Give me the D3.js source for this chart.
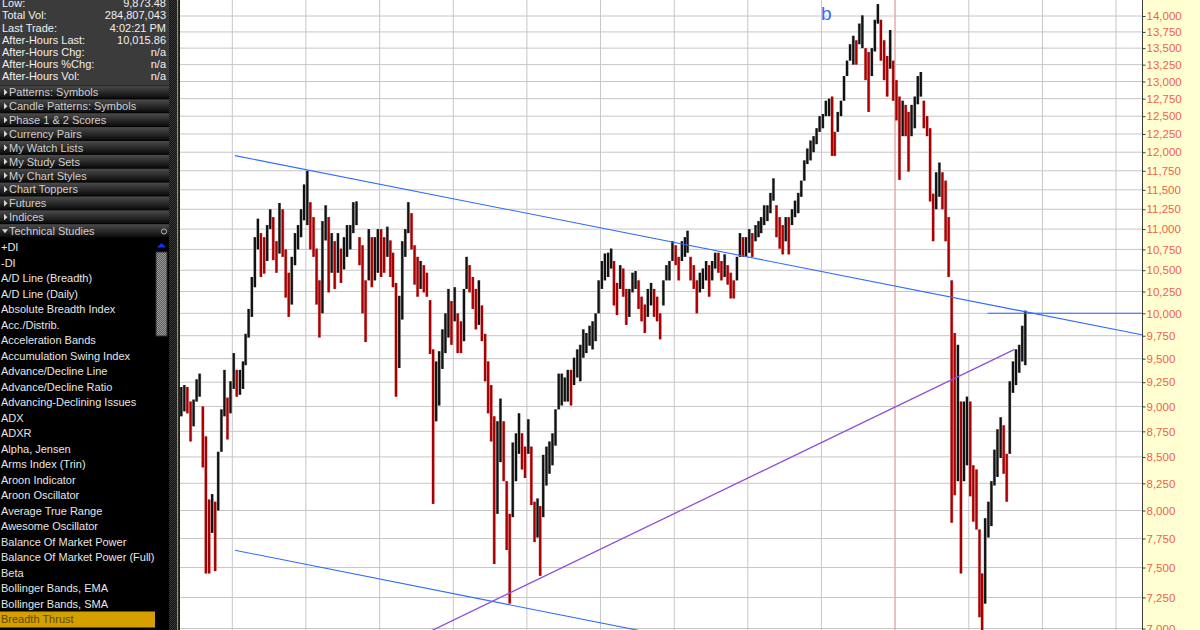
<!DOCTYPE html>
<html>
<head>
<meta charset="utf-8">
<script src="https://cdn.jsdelivr.net/npm/d3@7"></script>
<style>
  body { margin: 0; background: #000; }
  svg { display: block; }
  .panel text { font-family: "Liberation Sans", Arial, sans-serif; font-size: 11px; }
  .price-axis text { font-family: "Liberation Sans", Arial, sans-serif; font-size: 11.5px; fill: #f2604c; }
  .price-axis line { stroke: #404040; }
</style>
</head>
<body>
<div id="chart"></div>
<script>

// quote box at top of the side panel
var quoteLabels = ["Low:", "Total Vol:", "Last Trade:", "After-Hours Last:", "After-Hours Chg:", "After-Hours %Chg:", "After-Hours Vol:"];
var quoteValues = ["9,873.48", "284,807,043", "4:02:21 PM", "10,015.86", "n/a", "n/a", "n/a"];

var folders = ["Patterns: Symbols", "Candle Patterns: Symbols", "Phase 1 & 2 Scores", "Currency Pairs",
  "My Watch Lists", "My Study Sets", "My Chart Styles", "Chart Toppers", "Futures", "Indices", "Technical Studies"];

var studies = ["+DI", "-DI", "A/D Line (Breadth)", "A/D Line (Daily)", "Absolute Breadth Index", "Acc./Distrib.",
  "Acceleration Bands", "Accumulation Swing Index", "Advance/Decline Line", "Advance/Decline Ratio",
  "Advancing-Declining Issues", "ADX", "ADXR", "Alpha, Jensen", "Arms Index (Trin)", "Aroon Indicator",
  "Aroon Oscillator", "Average True Range", "Awesome Oscillator", "Balance Of Market Power",
  "Balance Of Market Power (Full)", "Beta", "Bollinger Bands, EMA", "Bollinger Bands, SMA", "Breadth Thrust"];

// half-month bars (1st-15th / 16th-end), first one is 16-30 Apr 1998
var firstHalf = new Date(1998, 3, 16);

var highs = [
  9200, 9220, 9200, 9050, 9070, 9280, 9340, 9000, 8700, 8100, 8150, 8080, 8550, 8970, 9380, 9090, 9260,
  9560, 9380, 9380, 9470, 9770, 10050, 10420, 10900, 11130, 10950, 10900, 11050, 11250, 11150, 10850, 11330,
  11250, 10750, 10470, 10660, 10950, 11050, 11250, 11570,
  11750, 11340, 11150, 10760, 10380, 11100, 11300, 11150, 10950, 10850, 10950, 10760, 10900, 11050, 11050,
  11340, 11350, 10900, 10800, 10380, 11000, 10900, 10900, 11000,
  11000, 10900, 11030, 10860, 10710, 10350, 10200, 10850, 11000, 11340, 11200, 10800, 10660, 10610, 10560,
  10470, 10150, 9600, 9470, 9580, 9820, 10000, 10280, 10140,
  10300, 10000, 9910, 10280, 10660, 10560, 10420, 10280, 10380, 10090, 9770, 9470, 9220, 8900, 8850, 9080,
  8850, 8270, 7970, 8640, 8730, 8930, 8730, 8600,
  8870, 8600, 8080, 8110, 8040, 8520, 8600, 8650, 8730, 8970, 9340, 9340, 9300, 9380, 9380, 9510, 9600, 9650,
  9820, 9780, 9860, 9910, 10000, 10380,
  10610, 10700, 10710, 10760, 10610, 10350, 10560, 10520, 10280, 10280, 10470, 10490, 10380, 10190, 10100,
  10280, 10350, 10280, 10190, 10000, 10380, 10560, 10610, 10850,
  10800, 10660, 10850, 10900, 10980, 10660, 10560, 10380, 10470, 10520, 10610, 10560, 10610, 10710, 10710,
  10610, 10690, 10560, 10470, 10380, 10660, 10950, 10900, 10900,
  11000, 10950, 11050, 11100, 11150, 11300, 11300, 11460, 11650, 11300, 11150, 11050, 11150, 11150, 11250,
  11360, 11460, 11620, 11890, 12050, 12160, 12220, 12330, 12500,
  12530, 12720, 12750, 12780, 12280, 12560, 12720, 13080, 13310, 13560, 13690, 13620, 13880, 14010, 13500,
  13440, 13500, 13940, 14190, 13940, 13620, 13380, 13780, 13310,
  13020, 12780, 12720, 12660, 12560, 12660, 12780, 13080, 13140, 12720, 12500, 12330, 11450, 11730, 11860,
  11730, 11620, 11150, 10380, 9780, 9650, 9050, 9050, 9100,
  9050, 8420, 8380, 7830, 7450, 7930, 8080, 8270, 8570, 8770, 8890, 8810, 8530, 9260, 9470, 9600, 9650, 9860,
  10030
];

var lows = [
  8900, 8950, 8930, 8650, 8800, 9050, 9100, 8400, 7450, 7450, 7800, 7470, 8000, 8550, 8900, 8670, 8930,
  9180, 9100, 9120, 9180, 9430, 9730, 9960, 10300, 10750, 10420, 10460, 10610, 11000, 10620, 10470, 10700,
  10660, 10180, 9960, 10100, 10560, 10750, 10900, 11110,
  11050, 10750, 10660, 10100, 9730, 10000, 10860, 10240, 10470, 10280, 10470, 10350, 10510, 10660, 10750,
  10950, 11050, 10560, 10000, 9680, 10380, 10300, 10380, 10470,
  10420, 10470, 10660, 10420, 10300, 9100, 9400, 9930, 10660, 10950, 10750, 10330, 10190, 10280, 10240,
  10190, 9550, 8060, 8850, 9010, 9390, 9560, 9730, 9650,
  9910, 9560, 9560, 9690, 10280, 10240, 10050, 9820, 9870, 9690, 9260, 8930, 8650, 7530, 7970, 8450,
  8270, 7650, 7200, 7940, 8270, 8530, 8380, 8300,
  8530, 8050, 7720, 7760, 7430, 7940, 8230, 8340, 8420, 8610, 8970, 9010, 9050, 9050, 9010, 9220, 9300, 9260,
  9510, 9560, 9640, 9600, 9690, 10000,
  10280, 10380, 10420, 10520, 10090, 9980, 10280, 10190, 9870, 9960, 10240, 10280, 10050, 9910, 9780,
  9960, 10090, 9960, 9910, 9710, 10090, 10380, 10380, 10610,
  10560, 10380, 10610, 10660, 10710, 10380, 10280, 10000, 10240, 10280, 10380, 10190, 10380, 10520, 10470,
  10380, 10420, 10330, 10170, 10170, 10380, 10660, 10660, 10660,
  10710, 10660, 10850, 10900, 10950, 11050, 11100, 11200, 11360, 10900, 10760, 10690, 10850, 10690, 11050,
  11150, 11200, 11410, 11620, 11840, 11890, 12000, 12110, 12280,
  12330, 12500, 12500, 11950, 11950, 12280, 12500, 12720, 13080, 13310, 13250, 13250, 13560, 13500, 13020,
  12560, 13080, 13450, 13880, 13310, 13020, 12780, 13190, 12720,
  12440, 11630, 12220, 12220, 11740, 12220, 12330, 12670, 12780, 12330, 12220, 11350, 10850, 11250, 11410,
  11250, 10850, 10420, 7890, 8140, 8270, 7450, 8270, 8420,
  8130, 7900, 7830, 7090, 6470, 7200, 7760, 7860, 8230, 8310, 8490, 8340, 8080, 8530, 9140, 9220, 9350, 9470,
  9430
];

// price axis
var yTicks = [7000, 7250, 7500, 7750, 8000, 8250, 8500, 8750, 9000, 9250, 9500, 9750, 10000, 10250, 10500,
  10750, 11000, 11250, 11500, 11750, 12000, 12250, 12500, 12750, 13000, 13250, 13500, 13750, 14000];

// drawn studies: [date, price] end points
var upperChannel = [[new Date(1999, 0, 14), 11954], [new Date(2011, 4, 9), 9760]];
var lowerChannel = [[new Date(1999, 0, 14), 7648], [new Date(2004, 9, 15), 6954]];
var supportLine = [[new Date(2001, 6, 19), 6938], [new Date(2009, 7, 16), 9600]];
var lastLine = [[new Date(2009, 3, 4), 10000], [new Date(2011, 4, 9), 10000]];
var markerDate = new Date(2008, 0, 1);

var svg = d3.select("#chart")
  .append("svg")
  .attr("width", 1200)
  .attr("height", 630);

var defs = svg.append("defs");

var bandGrad = defs.append("linearGradient")
  .attr("id", "band")
  .attr("x1", 0).attr("y1", 0).attr("x2", 0).attr("y2", 1);
bandGrad.append("stop").attr("offset", "0%").attr("stop-color", "#4c4c4c");
bandGrad.append("stop").attr("offset", "100%").attr("stop-color", "#0a0a0a");

var dots = defs.append("pattern")
  .attr("id", "dots")
  .attr("width", 2).attr("height", 2)
  .attr("patternUnits", "userSpaceOnUse");
dots.append("rect").attr("width", 2).attr("height", 2).attr("fill", "#5a5a5a");
dots.append("rect").attr("width", 1).attr("height", 1).attr("fill", "#9a9a9a");
dots.append("rect").attr("x", 1).attr("y", 1).attr("width", 1).attr("height", 1).attr("fill", "#9a9a9a");

var darkDots = defs.append("pattern")
  .attr("id", "darkDots")
  .attr("width", 2).attr("height", 2)
  .attr("patternUnits", "userSpaceOnUse");
darkDots.append("rect").attr("width", 2).attr("height", 2).attr("fill", "#111");
darkDots.append("rect").attr("width", 1).attr("height", 1).attr("fill", "#3a3a3a");
darkDots.append("rect").attr("x", 1).attr("y", 1).attr("width", 1).attr("height", 1).attr("fill", "#3a3a3a");

defs.append("clipPath").attr("id", "plotClip")
  .append("rect").attr("x", 180).attr("y", 0).attr("width", 962).attr("height", 630);

// ==============================
// side panel
var panel = svg.append("g").attr("class", "panel");

panel.append("rect").attr("x", 0).attr("y", 0).attr("width", 178).attr("height", 630).attr("fill", "#000");
panel.append("rect").attr("x", 0).attr("y", 0).attr("width", 171).attr("height", 85).attr("fill", "#3b3b3b");

panel.selectAll(".qlabel")
  .data(quoteLabels)
  .enter()
  .append("text")
  .attr("x", 2)
  .attr("y", (d, i) => 7.3 + i * 12.1)
  .attr("fill", "#f0f0f0")
  .text(d => d);

panel.selectAll(".qvalue")
  .data(quoteValues)
  .enter()
  .append("text")
  .attr("x", 166)
  .attr("y", (d, i) => 7.3 + i * 12.1)
  .attr("text-anchor", "end")
  .attr("fill", "#f0f0f0")
  .text(d => d);

var folderRows = panel.selectAll(".folder")
  .data(folders)
  .enter()
  .append("g")
  .attr("transform", (d, i) => `translate(0, ${85.5 + i * 13.87})`);

folderRows.append("rect")
  .attr("width", 171)
  .attr("height", 13)
  .attr("fill", "url(#band)");

folderRows.append("path")
  .attr("d", (d, i) => i === folders.length - 1 ? "M2,5 L8,5 L5,9 Z" : "M4,3.5 L7.5,6.8 L4,10 Z")
  .attr("fill", "#d8d8d8");

folderRows.append("text")
  .attr("x", 9)
  .attr("y", 10.8)
  .attr("fill", "#cfcfcf")
  .text(d => d);

// settings icon on the open folder
panel.append("circle")
  .attr("cx", 164).attr("cy", 231.5).attr("r", 2.6)
  .attr("fill", "none").attr("stroke", "#bbb").attr("stroke-width", 1);

// study list
panel.append("rect").attr("x", 0).attr("y", 611.5).attr("width", 155).attr("height", 16).attr("fill", "#d4a000");

panel.selectAll(".study")
  .data(studies)
  .enter()
  .append("text")
  .attr("x", 1)
  .attr("y", (d, i) => 251.3 + i * 15.5)
  .attr("fill", (d, i) => i === studies.length - 1 ? "#5e4800" : "#e6e6e6")
  .text(d => d);

// scroll bar
panel.append("path").attr("d", "M157,247.5 L166,247.5 L161.5,243 Z").attr("fill", "#1030ff");
panel.append("rect").attr("x", 156).attr("y", 252).attr("width", 11).attr("height", 84).attr("fill", "url(#dots)");
panel.append("rect").attr("x", 156).attr("y", 252).attr("width", 11).attr("height", 84)
  .attr("fill", "none").attr("stroke", "#303030");
panel.append("rect").attr("x", 169).attr("y", 0).attr("width", 8).attr("height", 630).attr("fill", "url(#darkDots)");
panel.append("rect").attr("x", 177).attr("y", 0).attr("width", 1.5).attr("height", 630).attr("fill", "#9c9450");
panel.append("rect").attr("x", 178.5).attr("y", 0).attr("width", 1.5).attr("height", 630).attr("fill", "#1a1a1a");

// ==============================
// price chart
var xScale = d3.scaleTime()
  .domain([new Date(1999, 0, 1), new Date(2011, 0, 1)])
  .range([232.3, 1116]);

var yScale = d3.scaleLog()
  .domain([7000, 14000])
  .range([628.5, 16]);

svg.append("rect").attr("x", 180).attr("y", 0).attr("width", 962).attr("height", 630).attr("fill", "#fff");
svg.append("rect").attr("x", 1142).attr("y", 0).attr("width", 58).attr("height", 630).attr("fill", "#ffffd2");

var plot = svg.append("g").attr("clip-path", "url(#plotClip)");

// grid
plot.selectAll(".hgrid")
  .data(yTicks)
  .enter()
  .append("line")
  .attr("x1", 180).attr("x2", 1142)
  .attr("y1", d => yScale(d)).attr("y2", d => yScale(d))
  .attr("stroke", "#c6c6c6")
  .attr("stroke-width", 1);

plot.selectAll(".vgrid")
  .data(d3.timeYear.range(new Date(1999, 0, 1), new Date(2012, 0, 1)))
  .enter()
  .append("line")
  .attr("x1", d => xScale(d)).attr("x2", d => xScale(d))
  .attr("y1", 0).attr("y2", 630)
  .attr("stroke", "#c6c6c6")
  .attr("stroke-width", 1);

plot.append("line")
  .attr("x1", xScale(markerDate)).attr("x2", xScale(markerDate))
  .attr("y1", 0).attr("y2", 630)
  .attr("stroke", "#f2a0a0")
  .attr("stroke-width", 1);

// bars
var bars = highs.map(function(h, i) {
  var start = d3.timeMonth.offset(firstHalf, Math.floor((i + 1) / 2));
  start.setDate(i % 2 === 0 ? 16 : 1);
  return {date: d3.timeDay.offset(start, 7), high: h, low: lows[i]};
});
bars.forEach(function(d, i) {
  var prev = i > 0 ? bars[i - 1] : d;
  d.up = (d.high + d.low) >= (prev.high + prev.low);
});

plot.selectAll(".shade")
  .data(bars)
  .enter()
  .append("line")
  .attr("x1", d => xScale(d.date)).attr("x2", d => xScale(d.date))
  .attr("y1", d => yScale(d.high)).attr("y2", d => yScale(d.low))
  .attr("stroke", d => d.up ? "#b4b4b4" : "#dc9c9c")
  .attr("stroke-width", 3.2);

plot.selectAll(".bar")
  .data(bars)
  .enter()
  .append("line")
  .attr("x1", d => xScale(d.date)).attr("x2", d => xScale(d.date))
  .attr("y1", d => yScale(d.high)).attr("y2", d => yScale(d.low))
  .attr("stroke", d => d.up ? "#111" : "#a80000")
  .attr("stroke-width", 2.2);

// drawn lines
var studyLine = d3.line()
  .x(d => xScale(d[0]))
  .y(d => yScale(d[1]));

[upperChannel, lowerChannel, lastLine].forEach(function(pts) {
  plot.append("path")
    .attr("d", studyLine(pts))
    .attr("fill", "none")
    .attr("stroke", "#2f6bff")
    .attr("stroke-width", 1.1);
});

plot.append("path")
  .attr("d", studyLine(supportLine))
  .attr("fill", "none")
  .attr("stroke", "#9050d8")
  .attr("stroke-width", 1.3);

plot.append("text")
  .attr("x", xScale(new Date(2006, 11, 30)))
  .attr("y", yScale(13930))
  .attr("font-family", "'Liberation Sans', Arial, sans-serif")
  .attr("font-size", "19px")
  .attr("fill", "#2f6bff")
  .text("b");

// price axis
var rightAxis = d3.axisRight(yScale)
  .tickValues(yTicks)
  .tickFormat(d3.format(","))
  .tickSize(3)
  .tickPadding(1);

var axisGroup = svg.append("g")
  .attr("class", "price-axis")
  .attr("transform", "translate(1142.5, 0)")
  .call(rightAxis);
axisGroup.select(".domain").remove();

svg.append("line")
  .attr("x1", 1142.5).attr("x2", 1142.5)
  .attr("y1", 0).attr("y2", 630)
  .attr("stroke", "#3c3c3c")
  .attr("stroke-width", 1);

</script>
</body>
</html>
